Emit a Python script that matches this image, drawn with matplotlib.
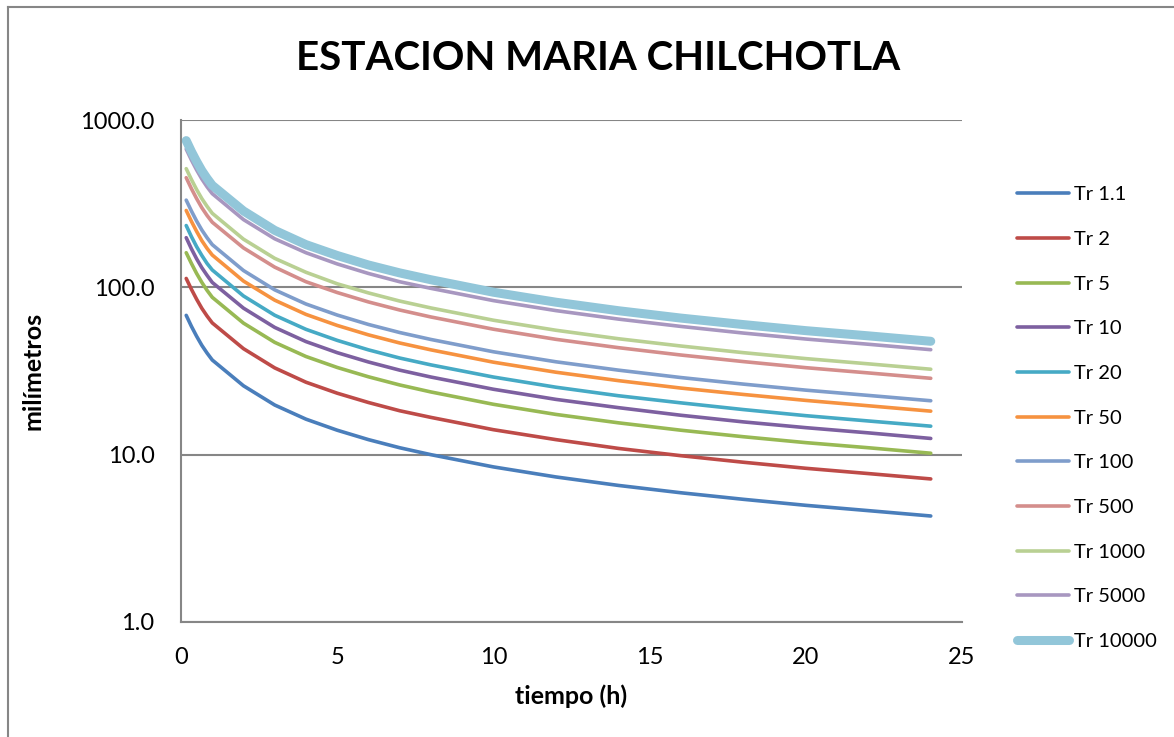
import matplotlib
matplotlib.use("Agg")
import matplotlib.pyplot as plt
from matplotlib.ticker import FixedLocator, FormatStrFormatter, NullLocator
from matplotlib.lines import Line2D

plt.rcParams['font.family'] = ['Lato', 'DejaVu Sans']

# duration in hours
tiempo = [0.167, 0.333, 0.5, 0.667, 0.833, 1, 2, 3, 4, 5, 6, 7, 8,
          10, 12, 14, 16, 18, 20, 22, 24]

tr_1_1 = [68.0, 58.5, 51.0, 45.0, 40.5, 36.8, 25.8, 19.8, 16.3, 14.0, 12.3,
          11.0, 10.0, 8.45, 7.36, 6.55, 5.92, 5.41, 4.98, 4.63, 4.30]
tr_2 = [113, 97.4, 84.9, 74.9, 67.4, 61.3, 43.0, 33.0, 27.1, 23.3, 20.5,
        18.3, 16.7, 14.1, 12.3, 10.9, 9.86, 9.01, 8.29, 7.71, 7.16]
tr_5 = [161, 139, 121, 107, 96.0, 87.2, 61.1, 46.9, 38.6, 33.2, 29.2,
        26.1, 23.7, 20.0, 17.4, 15.5, 14.0, 12.8, 11.8, 11.0, 10.2]
tr_10 = [198, 170, 148, 131, 118, 107, 75.1, 57.6, 47.4, 40.7, 35.8,
         32.0, 29.1, 24.6, 21.4, 19.1, 17.2, 15.7, 14.5, 13.5, 12.5]
tr_20 = [234, 201, 175, 155, 139, 127, 88.8, 68.1, 56.1, 48.2, 42.3,
         37.8, 34.4, 29.1, 25.3, 22.5, 20.4, 18.6, 17.1, 15.9, 14.8]
tr_50 = [288, 248, 216, 190, 171, 156, 109, 83.8, 68.9, 59.2, 52.0,
         46.5, 42.3, 35.7, 31.1, 27.7, 25.0, 22.9, 21.1, 19.6, 18.2]
tr_100 = [332, 286, 249, 220, 198, 180, 126, 96.6, 79.5, 68.3, 60.0,
          53.7, 48.8, 41.2, 35.9, 32.0, 28.9, 26.4, 24.3, 22.6, 21.0]
tr_500 = [452, 389, 339, 299, 269, 245, 172, 132, 108, 93.1, 81.8,
          73.2, 66.5, 56.2, 48.9, 43.6, 39.4, 36.0, 33.1, 30.8, 28.6]
tr_1000 = [512, 441, 384, 339, 305, 277, 194, 149, 123, 105, 92.6,
           82.8, 75.3, 63.6, 55.4, 49.3, 44.6, 40.7, 37.5, 34.9, 32.4]
tr_5000 = [670, 577, 503, 444, 399, 363, 254, 195, 161, 138, 121,
           108, 98.6, 83.3, 72.6, 64.6, 58.4, 53.3, 49.1, 45.7, 42.4]
tr_10000 = [753, 648, 565, 498, 448, 407, 286, 219, 180, 155, 136,
            122, 111, 93.5, 81.5, 72.5, 65.5, 59.9, 55.1, 51.3, 47.6]

series = [tr_1_1, tr_2, tr_5, tr_10, tr_20, tr_50, tr_100, tr_500,
          tr_1000, tr_5000, tr_10000]
labels = ['Tr 1.1', 'Tr 2', 'Tr 5', 'Tr 10', 'Tr 20', 'Tr 50', 'Tr 100',
          'Tr 500', 'Tr 1000', 'Tr 5000', 'Tr 10000']
colors = ['#4A7EBB', '#BE4B48', '#98B954', '#7D60A0', '#46AAC5', '#F69240',
          '#7F9DCB', '#D48E8C', '#B9D093', '#A897C0', '#92C6D9']

fig = plt.figure(figsize=(11.74, 7.37), dpi=100)
ax = fig.add_axes([181/1174, 1-622/737, (962-181)/1174, (622-120)/737])

for y, lab, c in zip(series, labels, colors):
    lw = 6.5 if lab == 'Tr 10000' else 2.6
    ax.plot(tiempo, y, color=c, lw=lw, label=lab, solid_capstyle='round')

ax.set_yscale('log')
ax.set_ylim(1, 1000)
ax.set_xlim(0, 25)
ax.yaxis.set_major_locator(FixedLocator([1, 10, 100, 1000]))
ax.yaxis.set_minor_locator(NullLocator())
ax.yaxis.set_major_formatter(FormatStrFormatter('%.1f'))
ax.set_xticks([0, 5, 10, 15, 20, 25])
ax.tick_params(length=0, labelsize=17)
ax.tick_params(axis='y', pad=19)
ax.tick_params(axis='x', pad=18)
ax.grid(axis='y', color='#868686', lw=1.5)
ax.set_axisbelow(True)
for s in ['top', 'right']:
    ax.spines[s].set_visible(False)
for s in ['left', 'bottom']:
    ax.spines[s].set_color('#868686')
    ax.spines[s].set_linewidth(1.5)

ax.set_xlabel('tiempo (h)', fontsize=18, fontweight='bold', labelpad=12)
ax.set_ylabel('milímetros', fontsize=18, fontweight='bold', labelpad=26)
fig.text(598/1174, 1-59/737, 'ESTACION MARIA CHILCHOTLA', fontsize=29,
         fontweight='bold', ha='center', va='center')

leg = ax.legend(loc='upper left', bbox_to_anchor=(999/1174, 1-168/737),
                bbox_transform=fig.transFigure, frameon=False, fontsize=14.5,
                handlelength=2.6, handletextpad=0.2, labelspacing=1.37)

# outer chart border
fig.add_artist(Line2D([8/1174, 8/1174], [0, 1-7/737], color='#868686', lw=1.5))
fig.add_artist(Line2D([8/1174, 1], [1-7/737, 1-7/737], color='#868686', lw=1.5))

fig.savefig('out.png', dpi=100)
